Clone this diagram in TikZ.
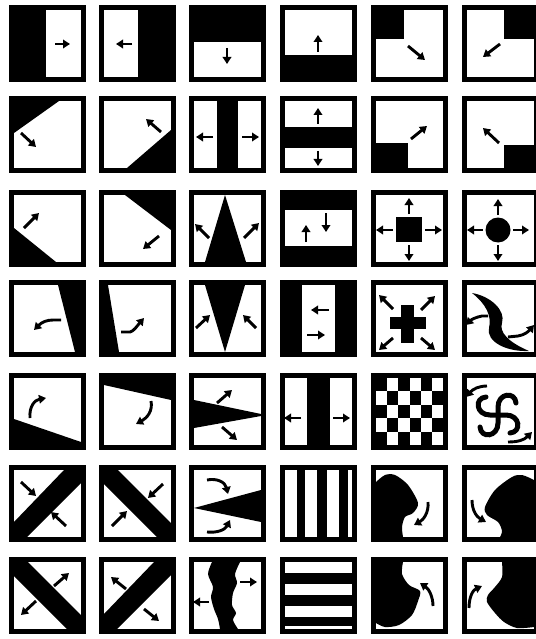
\documentclass[tikz,border=0pt]{standalone}
\usetikzlibrary{arrows.meta}
\tikzset{
  arr/.style={line width=2.9pt,-{Triangle[length=7pt,width=8.5pt]}},
  ink/.style={fill=black},
  stripe/.style={line width=5pt,line cap=round,draw=black}
}
\newcommand\cellbg{\fill[black] (0,0) rectangle (77,77); \fill[white] (5,5) rectangle (72,72);}
\begin{document}
\begin{tikzpicture}[x=1pt,y=-1pt]
\useasboundingbox (0,0) rectangle (535,639);
\fill[white] (0,0) rectangle (535,639);
% ---------------- Row 1
\begin{scope}[shift={(9,5)}]\cellbg
\fill[ink] (5,5) rectangle (37,72);
\draw[arr] (46,39) -- (61,39);
\end{scope}
\begin{scope}[shift={(99,5)}]\cellbg
\fill[ink] (39,5) rectangle (72,72);
\draw[arr] (33,39) -- (17,39);
\end{scope}
\begin{scope}[shift={(189,5)}]\cellbg
\fill[ink] (5,5) rectangle (72,37);
\draw[arr] (38,43) -- (38,59);
\end{scope}
\begin{scope}[shift={(280,5)}]\cellbg
\fill[ink] (5,50) rectangle (72,72);
\draw[arr] (38,47) -- (38,30);
\end{scope}
\begin{scope}[shift={(371,5)}]\cellbg
\fill[ink] (5,5) rectangle (33,34);
\draw[arr] (37,41) -- (54,55);
\end{scope}
\begin{scope}[shift={(462,5)}]\cellbg
\fill[ink] (42,5) rectangle (72,34);
\draw[arr] (38,39) -- (21,52);
\end{scope}
% ---------------- Row 2
\begin{scope}[shift={(9,96)}]\cellbg
\fill[ink] (5,5) -- (50,5) -- (5,37) -- cycle;
\draw[arr] (12,37) -- (27,51);
\end{scope}
\begin{scope}[shift={(99,96)}]\cellbg
\fill[ink] (72,34) -- (72,72) -- (28,72) -- cycle;
\draw[arr] (62,36) -- (47,23);
\end{scope}
\begin{scope}[shift={(189,96)}]\cellbg
\fill[ink] (28,5) rectangle (49,72);
\draw[arr] (24,41) -- (7,41);
\draw[arr] (53,41) -- (70,41);
\end{scope}
\begin{scope}[shift={(280,96)}]\cellbg
\fill[ink] (5,31) rectangle (72,52);
\draw[arr] (38,28) -- (38,12);
\draw[arr] (38,55) -- (38,70);
\end{scope}
\begin{scope}[shift={(371,96)}]\cellbg
\fill[ink] (5,47) rectangle (37,72);
\draw[arr] (40,43) -- (56,30);
\end{scope}
\begin{scope}[shift={(462,96)}]\cellbg
\fill[ink] (42,49) rectangle (72,72);
\draw[arr] (37,47) -- (21,32);
\end{scope}
% ---------------- Row 3
\begin{scope}[shift={(9,190)}]\cellbg
\fill[ink] (5,38) -- (5,72) -- (47,72) -- cycle;
\draw[arr] (15,38) -- (30,23);
\end{scope}
\begin{scope}[shift={(99,190)}]\cellbg
\fill[ink] (26,5) -- (72,5) -- (72,40) -- cycle;
\draw[arr] (60,46) -- (44,59);
\end{scope}
\begin{scope}[shift={(189,190)}]\cellbg
\fill[ink] (36,5) -- (57,72) -- (16,72) -- cycle;
\draw[arr] (20,48) -- (6,34);
\draw[arr] (55,48) -- (70,33);
\end{scope}
\begin{scope}[shift={(280,190)}]\cellbg
\fill[ink] (5,5) rectangle (72,20);
\fill[ink] (5,56) rectangle (72,72);
\draw[arr] (26,52) -- (26,35);
\draw[arr] (46,23) -- (46,42);
\end{scope}
\begin{scope}[shift={(371,190)}]\cellbg
\fill[ink] (25,27) rectangle (51,52);
\draw[arr] (38,24) -- (38,8);
\draw[arr] (38,55) -- (38,71);
\draw[arr] (22,40) -- (5,40);
\draw[arr] (54,40) -- (71,40);
\end{scope}
\begin{scope}[shift={(462,190)}]\cellbg
\fill[ink] (36,40) circle[radius=12.5pt];
\draw[arr] (36,25) -- (36,9);
\draw[arr] (36,55) -- (36,71);
\draw[arr] (21,40) -- (5,40);
\draw[arr] (51,40) -- (67,40);
\end{scope}
% ---------------- Row 4
\begin{scope}[shift={(9,280)}]\cellbg
\fill[ink] (49,5) -- (72,5) -- (72,72) -- (66,72) -- cycle;
\draw[arr] (52,40) -- (44,40) .. controls (38,40) and (33,42) .. (25,50);
\end{scope}
\begin{scope}[shift={(99,280)}]\cellbg
\fill[ink] (5,5) -- (9,5) -- (20,72) -- (5,72) -- cycle;
\draw[arr] (22,52) -- (31,52) .. controls (35,51) and (38,46) .. (45,38);
\end{scope}
\begin{scope}[shift={(189,280)}]\cellbg
\fill[ink] (16,5) -- (56,5) -- (36,72) -- cycle;
\draw[arr] (7,48) -- (21,35);
\draw[arr] (67,48) -- (54,35);
\end{scope}
\begin{scope}[shift={(280,280)}]\cellbg
\fill[ink] (5,5) rectangle (22,72);
\fill[ink] (55,5) rectangle (72,72);
\draw[arr] (49,30) -- (31,30);
\draw[arr] (27,55) -- (45,55);
\end{scope}
\begin{scope}[shift={(371,280)}]\cellbg
\fill[ink] (30,25) rectangle (43,63);
\fill[ink] (19,37) rectangle (55,49);
\draw[arr] (22,29) -- (8,15);
\draw[arr] (50,30) -- (64,16);
\draw[arr] (22,58) -- (8,70);
\draw[arr] (50,58) -- (64,70);
\end{scope}
\begin{scope}[shift={(462,280)}]\cellbg
\fill[ink] (10,13) .. controls (28,16) and (44,30) .. (40,43) .. controls (37,52) and (46,62) .. (67,71)
  .. controls (45,72) and (24,62) .. (27,48) .. controls (30,36) and (24,24) .. (10,13) -- cycle;
\draw[arr] (26,36) -- (20,36) .. controls (15,37) and (10,39) .. (4,45);
\draw[arr] (46,57) -- (56,56) .. controls (62,55) and (66,52) .. (72,45);
\end{scope}
% ---------------- Row 5
\begin{scope}[shift={(9,373)}]\cellbg
\fill[ink] (5,46) -- (72,69) -- (72,72) -- (5,72) -- cycle;
\draw[arr] (21,45) .. controls (20,33) and (26,27) .. (37,25);
\end{scope}
\begin{scope}[shift={(99,373)}]\cellbg
\fill[ink] (5,5) -- (72,5) -- (72,27) -- (5,12) -- cycle;
\draw[arr] (52,28) .. controls (54,38) and (48,45) .. (37,51);
\end{scope}
\begin{scope}[shift={(189,373)}]\cellbg
\fill[ink] (5,27) -- (72,41) -- (72,43) -- (5,55) -- cycle;
\draw[arr] (28,30) -- (43,17);
\draw[arr] (33,54) -- (48,67);
\end{scope}
\begin{scope}[shift={(280,373)}]\cellbg
\fill[ink] (27,5) rectangle (50,72);
\draw[arr] (21,45) -- (4,45);
\draw[arr] (53,45) -- (70,45);
\end{scope}
\begin{scope}[shift={(371,373)}]\cellbg
\foreach \i in {0,...,5}{\foreach \j in {0,...,4}{
  \pgfmathtruncatemacro\s{mod(\i+\j,2)}
  \ifnum\s=0 \fill[ink] ({5+\i*67/6},{5+\j*67/5}) rectangle ++(67/6,67/5);\fi}}
\end{scope}
\begin{scope}[shift={(462,373)}]\cellbg
\foreach \a in {0,90,180,270}{
  \begin{scope}[shift={(36,42)},rotate=\a]
  \draw[stripe] (0,0) -- (0,-8) .. controls (0,-22) and (17,-24) .. (18,-12);
  \end{scope}}
\draw[arr] (25,13) .. controls (17,13) and (11,16) .. (4,24);
\draw[arr] (46,69) .. controls (56,69) and (62,67) .. (70,59);
\end{scope}
% ---------------- Row 6
\begin{scope}[shift={(9,465)}]\cellbg
\fill[ink] (5,57) -- (55,5) -- (72,5) -- (72,18) -- (18,72) -- (5,72) -- cycle;
\draw[arr] (12,17) -- (27,31);
\draw[arr] (57,61) -- (42,47);
\end{scope}
\begin{scope}[shift={(99,465)}]\cellbg
\fill[ink] (5,5) -- (19,5) -- (72,58) -- (72,72) -- (58,72) -- (5,19) -- cycle;
\draw[arr] (64,19) -- (49,33);
\draw[arr] (13,61) -- (28,46);
\end{scope}
\begin{scope}[shift={(189,465)}]\cellbg
\fill[ink] (72,25) -- (72,57) -- (5,43) -- cycle;
\draw[arr] (18,15) .. controls (28,13) and (36,17) .. (39,29);
\draw[arr] (18,67) .. controls (28,68) and (36,65) .. (41,55);
\end{scope}
\begin{scope}[shift={(280,465)}]\cellbg
\fill[ink] (17,5) rectangle (25,72);
\fill[ink] (37,5) rectangle (47,72);
\fill[ink] (59,5) rectangle (68,72);
\end{scope}
\begin{scope}[shift={(371,465)}]\cellbg
\fill[ink] plot[smooth] coordinates {(5,17) (14,10) (24,10) (37,20) (47,38) (42,48) (34,52) (31,62) (32,72)} -- (5,72) -- cycle;
\draw[arr] (57,37) .. controls (58,48) and (52,55) .. (43,60);
\end{scope}
\begin{scope}[shift={(462,465)}]\cellbg
\fill[ink] plot[smooth] coordinates {(72,15) (60,10) (50,12) (33,25) (23,42) (25,50) (36,57) (40,66) (38,72)} -- (72,72) -- cycle;
\draw[arr] (10,35) .. controls (10,46) and (15,52) .. (24,57);
\end{scope}
% ---------------- Row 7
\begin{scope}[shift={(9,557)}]\cellbg
\fill[ink] (5,5) -- (19,5) -- (72,58) -- (72,72) -- (58,72) -- (5,19) -- cycle;
\draw[arr] (45,29) -- (60,16);
\draw[arr] (27,44) -- (12,58);
\end{scope}
\begin{scope}[shift={(99,557)}]\cellbg
\fill[ink] (5,57) -- (55,5) -- (72,5) -- (72,18) -- (18,72) -- (5,72) -- cycle;
\draw[arr] (27,32) -- (12,20);
\draw[arr] (45,52) -- (60,64);
\end{scope}
\begin{scope}[shift={(189,557)}]\cellbg
\fill[ink] plot[smooth] coordinates {(23,5) (19,17) (24,30) (22,40) (25,52) (29,62) (31,72)}
  -- plot[smooth] coordinates {(49,72) (44,63) (47,56) (43,48) (44,36) (48,26) (46,17) (51,5)} -- cycle;
\draw[arr] (51,25) -- (68,25);
\draw[arr] (20,45) -- (4,45);
\end{scope}
\begin{scope}[shift={(280,557)}]\cellbg
\fill[ink] (5,16) rectangle (72,27);
\fill[ink] (5,38) rectangle (72,49);
\fill[ink] (5,60) rectangle (72,69);
\end{scope}
\begin{scope}[shift={(371,557)}]\cellbg
\fill[ink] (5,5) -- plot[smooth] coordinates {(32,5) (31,17) (38,28) (49,34) (47,44) (41,58) (28,68) (14,70) (5,66)} -- cycle;
\draw[arr] (62,49) .. controls (62,40) and (58,32) .. (49,26);
\end{scope}
\begin{scope}[shift={(462,557)}]\cellbg
\fill[ink] plot[smooth] coordinates {(40,5) (40,20) (33,30) (26,38) (25,45) (33,56) (42,65) (55,71) (72,70)} -- (72,5) -- cycle;
\draw[arr] (7,51) .. controls (7,40) and (11,33) .. (20,29);
\end{scope}
\end{tikzpicture}
\end{document}
